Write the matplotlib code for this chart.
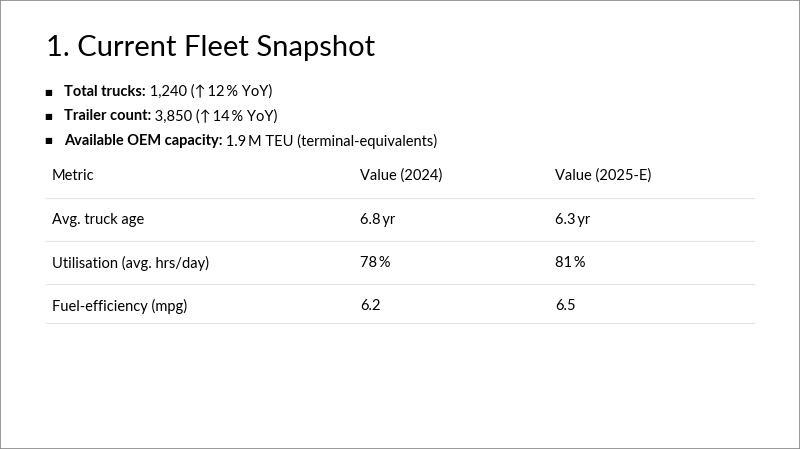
import matplotlib.pyplot as plt
from matplotlib.lines import Line2D
from matplotlib.patches import Rectangle

plt.rcParams['font.family'] = ['Lato', 'DejaVu Sans']

title = "1. Current Fleet Snapshot"
bullet_labels = ["Total trucks:", "Trailer count:", "Available OEM capacity:"]
bullet_values = [" 1,240 (↑\u200912\u2009% YoY)", " 3,850 (↑\u200914\u2009% YoY)",
                 " 1.9\u2009M TEU (terminal-equivalents)"]
columns = ["Metric", "Value (2024)", "Value (2025-E)"]
metrics = ["Avg. truck age", "Utilisation (avg. hrs/day)", "Fuel-efficiency (mpg)"]
values_2024 = ["6.8\u2009yr", "78\u2009%", "6.2"]
values_2025 = ["6.3\u2009yr", "81\u2009%", "6.5"]

W, H = 800, 449
fig = plt.figure(figsize=(W / 100, H / 100), dpi=100)
fig.patch.set_facecolor('white')


def px(x, y):
    return x / W, 1 - y / H


# frame
fig.add_artist(Rectangle((0, 0), 1, 1, transform=fig.transFigure, fill=False,
                         edgecolor='#888888', linewidth=1.2))

fig.text(*px(46, 48), title, fontsize=21, va='center', ha='left', color='black')

# bullets
for i, (lab, val) in enumerate(zip(bullet_labels, bullet_values)):
    y = 92 + i * 24.5
    fig.text(*px(48, y), "■", fontsize=6, va='center', ha='center', color='black')
    t = fig.text(*px(64, y), lab, fontsize=10.5, fontweight='bold', va='center', ha='left')
    fig.canvas.draw()
    bb = t.get_window_extent()
    fig.text(bb.x1 / W, 1 - y / H, val, fontsize=10.5, va='center', ha='left')

# table
col_x = [52, 360, 555]
header_y = 176
for cx, c in zip(col_x, columns):
    fig.text(*px(cx, header_y), c, fontsize=10.5, va='center', ha='left')
line_ys = [198, 241, 284, 323]
for ly in line_ys:
    fig.add_artist(Line2D([46 / W, 754 / W], [1 - ly / H] * 2, transform=fig.transFigure,
                          color='#e3e3e3', linewidth=0.8))
for i, (m, a, b) in enumerate(zip(metrics, values_2024, values_2025)):
    y = 220 + i * 43
    for cx, txt in zip(col_x, (m, a, b)):
        fig.text(*px(cx, y), txt, fontsize=10.5, va='center', ha='left')

fig.savefig('out.png', dpi=100)
